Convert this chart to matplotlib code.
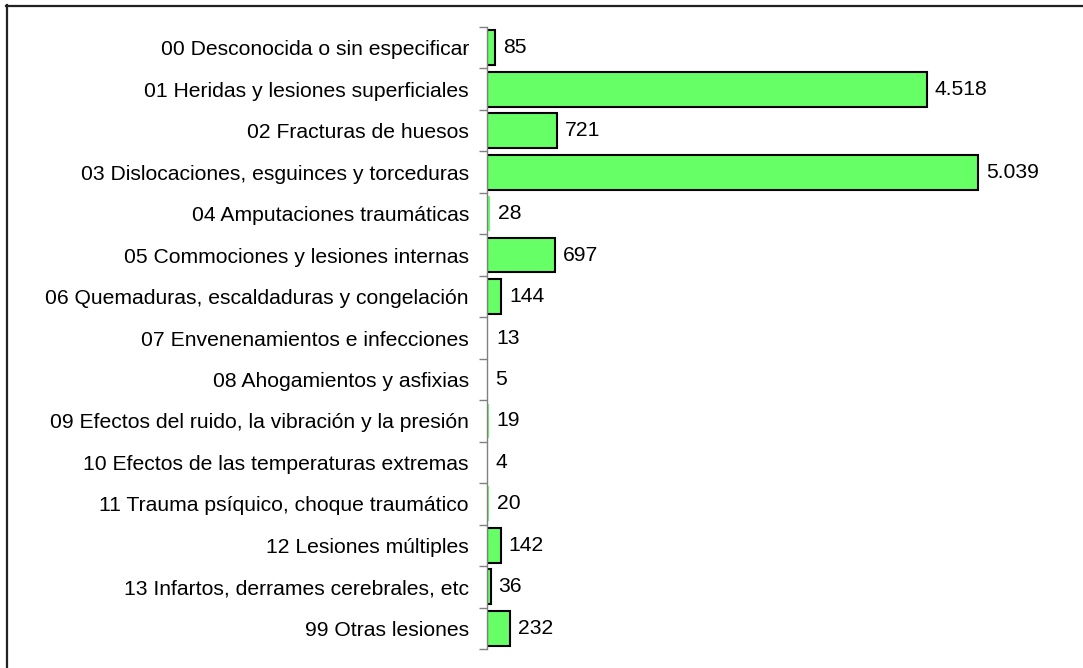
import matplotlib
matplotlib.use("Agg")
import matplotlib.pyplot as plt
from matplotlib.lines import Line2D

categories = [
    "00 Desconocida o sin especificar",
    "01 Heridas y lesiones superficiales",
    "02 Fracturas de huesos",
    "03 Dislocaciones, esguinces y torceduras",
    "04 Amputaciones traumáticas",
    "05 Commociones y lesiones internas",
    "06 Quemaduras, escaldaduras y congelación",
    "07 Envenenamientos e infecciones",
    "08 Ahogamientos y asfixias",
    "09 Efectos del ruido, la vibración y la presión",
    "10 Efectos de las temperaturas extremas",
    "11 Trauma psíquico, choque traumático",
    "12 Lesiones múltiples",
    "13 Infartos, derrames cerebrales, etc",
    "99 Otras lesiones",
]
values = [85, 4518, 721, 5039, 28, 697, 144, 13, 5, 19, 4, 20, 142, 36, 232]

plt.rcParams['font.family'] = ['Liberation Sans', 'DejaVu Sans']

W, H = 1083, 668
fig = plt.figure(figsize=(W / 100, H / 100), dpi=100)
left_px, right_px, top_px, bot_px = 487, 1070, 27, 649
ax = fig.add_axes([left_px / W, 1 - bot_px / H, (right_px - left_px) / W, (bot_px - top_px) / H])

n = len(categories)
ypos = list(range(n))
scale_px_per_unit = 490.7 / 5039
edges = ["black" if v > 30 else "none" for v in values]
ax.barh(ypos, values, height=0.84, color="#66FF66", edgecolor=edges, linewidth=1.5, zorder=2)
ax.set_xlim(0, (right_px - left_px) / scale_px_per_unit)
ax.set_ylim(n - 0.5, -0.5)

ax.set_yticks(ypos)
ax.set_yticklabels(categories, fontsize=15.2)
ax.tick_params(axis='y', which='major', length=0, pad=13)
ax.set_yticks([i - 0.5 for i in range(n + 1)], minor=True)
ax.tick_params(axis='y', which='minor', length=6, width=1, color="#808080", direction='out')
ax.set_xticks([])
for s in ['top', 'right', 'bottom']:
    ax.spines[s].set_visible(False)
ax.spines['left'].set_color("#808080")
ax.spines['left'].set_linewidth(1)
ax.spines['left'].set_zorder(3)

offset = 8 / scale_px_per_unit
for y, v in zip(ypos, values):
    label = f"{v:,}".replace(",", ".")
    ax.text(v + offset, y, label, va='center', ha='left', fontsize=15.2)

# figure border (top and left edges visible; right/bottom cropped)
fig.add_artist(Line2D([6 / W, 1], [1 - 5.5 / H, 1 - 5.5 / H], transform=fig.transFigure,
                      color="#222222", linewidth=1.6))
fig.add_artist(Line2D([7 / W, 7 / W], [1 - 5 / H, 0], transform=fig.transFigure,
                      color="#222222", linewidth=1.6))
fig.savefig("out.png", dpi=100)
